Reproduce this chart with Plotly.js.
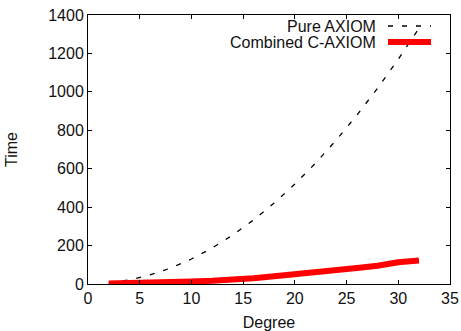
<!DOCTYPE html>
<html><head><meta charset="utf-8">
<script src="https://cdn.plot.ly/plotly-3.0.1.min.js"></script>
<style>html,body{margin:0;padding:0;background:#fff}#c{width:461px;height:331px}</style>
</head><body><div id="c"></div>
<script>
const degree = [2,4,6,8,10,12,14,16,18,20,22,24,26,28,30,32];
const pureAxiom = [5,21,47,83,130,187,255,333,421,520,629,749,879,1019,1170,1331];
const combinedCAxiom = [2,3,5,8,13,17,22,30,40,50,57,72,83,95,113,122];
const seriesNames = ["Pure AXIOM","Combined C-AXIOM"];
const xTicks = [0,5,10,15,20,25,30,35];
const yTicks = [0,200,400,600,800,1000,1200,1400];

const font = {family:"Liberation Sans, Arial, sans-serif", size:16, color:"#111"};
const traces = [
  {x:degree, y:pureAxiom, mode:"lines", name:seriesNames[0], line:{color:"#000", width:1.3, dash:"5px,9px"}, showlegend:false},
  {x:degree, y:combinedCAxiom, mode:"lines", name:seriesNames[1], line:{color:"#ff0000", width:6}, showlegend:false}
];
const axisCommon = {showgrid:false, zeroline:false, showline:true, linecolor:"#000", linewidth:1, mirror:"allticks", ticks:"inside", ticklen:4, tickcolor:"#000", tickfont:font};
const layout = {
  width:461, height:331,
  margin:{l:88, r:11, t:15, b:47},
  paper_bgcolor:"#fff", plot_bgcolor:"#fff",
  font:font,
  xaxis:Object.assign({}, axisCommon, {range:[0,35], tickvals:xTicks, ticktext:xTicks.map(String), title:{text:"Degree", font:font, standoff:10}}),
  yaxis:Object.assign({}, axisCommon, {range:[0,1400], tickvals:yTicks, ticktext:yTicks.map(String), title:{text:"Time", font:font, standoff:26}}),
  annotations:[
    {xref:"paper", yref:"paper", x:(378-88)/362, y:(284-26)/269, xanchor:"right", yanchor:"middle", text:seriesNames[0], showarrow:false, font:font},
    {xref:"paper", yref:"paper", x:(378-88)/362, y:(284-42)/269, xanchor:"right", yanchor:"middle", text:seriesNames[1], showarrow:false, font:font}
  ],
  shapes:[
    {type:"line", xref:"paper", yref:"paper", x0:(388-88)/362, x1:(431-88)/362, y0:(284-26)/269, y1:(284-26)/269, line:{color:"#000", width:1.3, dash:"5px,9px"}},
    {type:"line", xref:"paper", yref:"paper", x0:(388-88)/362, x1:(431-88)/362, y0:(284-42)/269, y1:(284-42)/269, line:{color:"#ff0000", width:6}}
  ]
};
Plotly.newPlot("c", traces, layout, {displayModeBar:false, staticPlot:true});
</script></body></html>
